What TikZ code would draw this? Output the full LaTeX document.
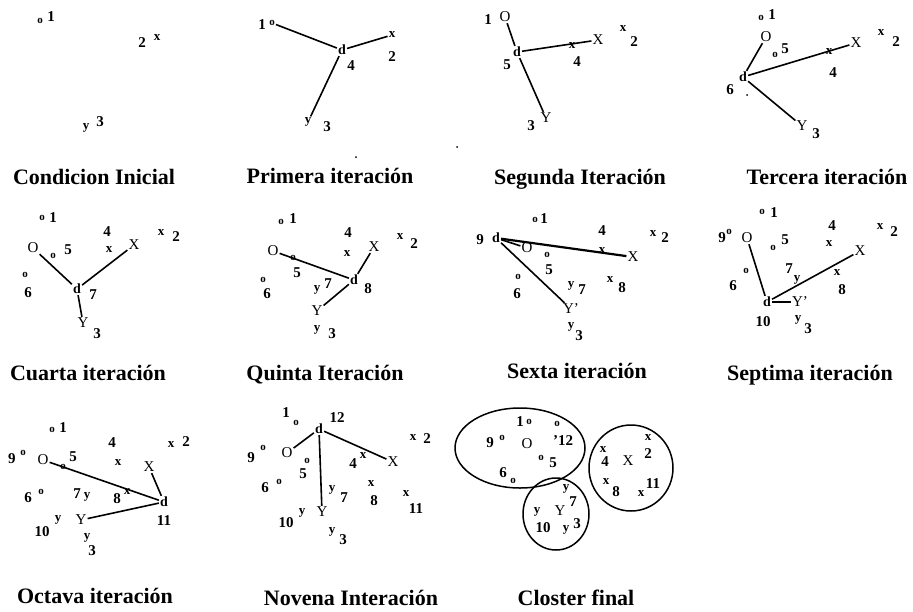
\documentclass[tikz,border=0pt]{standalone}
\usepackage{fontspec}
\setmainfont{Liberation Serif}
\usepackage{tikz}

\begin{document}
\begin{tikzpicture}[x=1pt, y=-1pt,
		num/.style={font=\fontsize{15}{15}\selectfont\bfseries, inner sep=1pt},
		pnt/.style={font=\fontsize{13}{13}\selectfont\bfseries, inner sep=1pt},
		opnt/.style={font=\fontsize{11}{11}\selectfont\bfseries, inner sep=1pt},
		cent/.style={font=\fontsize{15}{15}\selectfont, inner sep=1pt},
		dnode/.style={font=\fontsize{14}{14}\selectfont\bfseries, inner sep=1pt},
		ttl/.style={font=\fontsize{22}{22}\selectfont\bfseries, anchor=base, inner sep=0pt},
		lnk/.style={line width=1.6pt},
		grp/.style={line width=1.5pt}]
		\useasboundingbox (0,0) rectangle (913,611);

		\node[opnt] (Ao1) at (40,21) {o};
		\node[num] (An1) at (51,17) {1};
		\node[num] (An2) at (142,43) {2};
		\node[pnt] (Ax2) at (157,38) {x};
		\node[pnt] (Ay3) at (86,128) {y};
		\node[num] (An3) at (100,122) {3};
		\node[ttl] (At) at (94,184) {Condicion Inicial};

		\node[num] (Bn1) at (262,25) {1};
		\node[opnt] (Bo1) at (272,23) {o};
		\node[dnode] (Bd) at (342,50) {d};
		\node[pnt] (Bx2) at (392,35) {x};
		\node[num] (Bn2) at (392,57) {2};
		\node[num] (Bn4) at (351,66) {4};
		\node[pnt] (By3) at (308,122) {y};
		\node[num] (Bn3) at (327,127) {3};
		\node[ttl] (Bt) at (330,183) {Primera iteración};
		\coordinate (Bs) at (356,157);
		\fill (Bs) circle (1pt);
		\draw[lnk] (Bo1) -- (Bd);
		\draw[lnk] (Bd) -- (Bx2);
		\draw[lnk] (Bd) -- (By3);

		\node[num] (Cn1) at (488,20) {1};
		\node[cent] (CO) at (505,17) {O};
		\node[dnode] (Cd) at (517,52) {d};
		\node[num] (Cn5) at (507,65) {5};
		\node[cent] (CX) at (598,40) {X};
		\node[pnt] (Cx4) at (572,46) {x};
		\node[num] (Cn4) at (577,62) {4};
		\node[pnt] (Cx2) at (623,29) {x};
		\node[num] (Cn2) at (634,42) {2};
		\node[cent] (CY) at (546,118) {Y};
		\node[num] (Cn3) at (531,126) {3};
		\node[ttl] (Ct) at (580,184) {Segunda Iteración};
		\coordinate (Cs) at (457,147);
		\fill (Cs) circle (1pt);
		\draw[lnk] (CO) -- (Cd);
		\draw[lnk] (Cd) -- (CX);
		\draw[lnk] (Cd) -- (CY);

		\node[opnt] (Do1) at (761,18) {o};
		\node[num] (Dn1) at (772,15) {1};
		\node[cent] (DO) at (766,37) {O};
		\node[dnode] (Dd) at (743,77) {d};
		\node[num] (Dn6) at (730,90) {6};
		\coordinate (Dp6) at (747,95);
		\fill (Dp6) circle (1pt);
		\node[opnt] (Do5) at (775,55) {o};
		\node[num] (Dn5) at (785,49) {5};
		\node[pnt] (Dx4) at (829,52) {x};
		\node[cent] (DX) at (856,43) {X};
		\node[num] (Dn4) at (833,73) {4};
		\node[pnt] (Dx2) at (881,33) {x};
		\node[num] (Dn2) at (896,42) {2};
		\node[cent] (DY) at (802,126) {Y};
		\node[num] (Dn3) at (816,134) {3};
		\node[ttl] (Dt) at (827,184) {Tercera iteración};
		\draw[lnk] (DO) -- (Dd);
		\draw[lnk] (Dd) -- (DX);
		\draw[lnk] (Dd) -- (DY);

		\node[opnt] (Eo1) at (42,218) {o};
		\node[num] (En1) at (53,218) {1};
		\node[cent] (EO) at (33,248) {O};
		\node[opnt] (Eo5) at (53,256) {o};
		\node[num] (En5) at (68,250) {5};
		\node[opnt] (Eo6) at (25,275) {o};
		\node[num] (En6) at (28,293) {6};
		\node[dnode] (Ed) at (77,289) {d};
		\node[num] (En7) at (93,295) {7};
		\node[num] (En4) at (107,232) {4};
		\node[pnt] (Ex4) at (109,250) {x};
		\node[cent] (EX) at (134,245) {X};
		\node[pnt] (Ex2) at (161,233) {x};
		\node[num] (En2) at (176,237) {2};
		\node[cent] (EY) at (83,323) {Y};
		\node[num] (En3) at (97,334) {3};
		\node[ttl] (Et) at (88,380) {Cuarta iteración};
		\draw[lnk] (EO) -- (Ed);
		\draw[lnk] (Ed) -- (EX);
		\draw[lnk] (Ed) -- (EY);

		\node[opnt] (Fo1) at (281,222) {o};
		\node[num] (Fn1) at (293,219) {1};
		\node[cent] (FO) at (273,251) {O};
		\node[opnt] (Fo5) at (293,258) {o};
		\node[num] (Fn5) at (297,273) {5};
		\node[opnt] (Fo6) at (263,280) {o};
		\node[num] (Fn6) at (267,294) {6};
		\node[num] (Fn4) at (348,233) {4};
		\node[pnt] (Fx4) at (347,254) {x};
		\node[cent] (FX) at (374,247) {X};
		\node[dnode] (Fd) at (354,280) {d};
		\node[num] (Fn8) at (368,289) {8};
		\node[pnt] (Fx2) at (400,237) {x};
		\node[num] (Fn2) at (414,244) {2};
		\node[pnt] (Fy7) at (317,290) {y};
		\node[num] (Fn7) at (328,284) {7};
		\node[cent] (FY) at (317,311) {Y};
		\node[pnt] (Fy3) at (317,330) {y};
		\node[num] (Fn3) at (332,334) {3};
		\node[ttl] (Ft) at (325,380) {Quinta Iteración};
		\draw[lnk] (FO) -- (Fd);
		\draw[lnk] (Fd) -- (FX);
		\draw[lnk] (Fd) -- (FY);

		\node[opnt] (Go1) at (535,220) {o};
		\node[num] (Gn1) at (544,219) {1};
		\node[num] (Gn9) at (480,240) {9};
		\node[dnode] (Gd) at (496,238) {d};
		\node[cent] (GO) at (527,248) {O};
		\node[pnt] (Gx4) at (602,251) {x};
		\node[num] (Gn4) at (602,231) {4};
		\node[cent] (GX) at (633,257) {X};
		\node[pnt] (Gx2) at (653,234) {x};
		\node[num] (Gn2) at (665,238) {2};
		\node[opnt] (Go5) at (547,255) {o};
		\node[num] (Gn5) at (549,270) {5};
		\node[opnt] (Go6) at (518,277) {o};
		\node[num] (Gn6) at (517,294) {6};
		\node[cent] (GY) at (571,309) {Y'};
		\node[pnt] (Gy7) at (571,286) {y};
		\node[num] (Gn7) at (582,290) {7};
		\node[pnt] (Gx8) at (610,280) {x};
		\node[num] (Gn8) at (622,288) {8};
		\node[pnt] (Gy3) at (571,327) {y};
		\node[num] (Gn3) at (579,336) {3};
		\node[ttl] (Gt) at (577,378) {Sexta iteración};
		\draw[lnk] (Gd) -- (GO);
		\draw[lnk, line width=2.2pt] (Gd) -- (GX);
		\draw[lnk] (Gd) -- (GY);

		\node[opnt] (Ho1) at (762,212) {o};
		\node[num] (Hn1) at (774,213) {1};
		\node[num] (Hn9) at (722,238) {9};
		\node[opnt] (Ho9) at (729,232) {o};
		\node[cent] (HO) at (747,238) {O};
		\node[opnt] (Ho5) at (773,248) {o};
		\node[num] (Hn5) at (785,240) {5};
		\node[num] (Hn4) at (832,226) {4};
		\node[pnt] (Hx4) at (829,244) {x};
		\node[cent] (HX) at (860,251) {X};
		\node[pnt] (Hx2) at (880,227) {x};
		\node[num] (Hn2) at (894,232) {2};
		\node[opnt] (Ho6) at (746,271) {o};
		\node[num] (Hn6) at (733,286) {6};
		\node[num] (Hn7) at (789,269) {7};
		\node[pnt] (Hy7) at (797,280) {y};
		\node[pnt] (Hx8) at (837,273) {x};
		\node[num] (Hn8) at (842,290) {8};
		\node[dnode] (Hd) at (767,302) {d};
		\node[cent] (HY) at (800,302) {Y'};
		\node[num] (Hn10) at (763,322) {10};
		\node[pnt] (Hy3) at (798,320) {y};
		\node[num] (Hn3) at (808,329) {3};
		\node[ttl] (Ht) at (810,380) {Septima iteración};
		\draw[lnk] (HO) -- (Hd);
		\draw[lnk, line width=2.2pt] (Hd) -- (HY);
		\draw[lnk] (Hd) -- (HX);

		\node[opnt] (Io1) at (52,430) {o};
		\node[num] (In1) at (63,428) {1};
		\node[num] (In9) at (12,459) {9};
		\node[opnt] (Io9) at (23,453) {o};
		\node[cent] (IO) at (43,460) {O};
		\node[opnt] (Io5) at (63,467) {o};
		\node[num] (In5) at (73,457) {5};
		\node[num] (In4) at (112,443) {4};
		\node[pnt] (Ix4) at (118,463) {x};
		\node[cent] (IX) at (149,467) {X};
		\node[pnt] (Ix2) at (171,445) {x};
		\node[num] (In2) at (186,442) {2};
		\node[num] (In6) at (28,498) {6};
		\node[opnt] (Io6) at (41,492) {o};
		\node[num] (In7) at (77,494) {7};
		\node[pnt] (Iy7) at (87,497) {y};
		\node[num] (In8) at (117,499) {8};
		\node[pnt] (Ix8) at (127,492) {x};
		\node[dnode] (Id) at (164,502) {d};
		\node[num] (In11) at (164,521) {11};
		\node[cent] (IY) at (81,520) {Y};
		\node[num] (In10) at (42,532) {10};
		\node[pnt] (Iy10) at (58,520) {y};
		\node[pnt] (Iy3) at (87,538) {y};
		\node[num] (In3) at (92,551) {3};
		\node[ttl] (It) at (95,603) {Octava iteración};
		\draw[lnk] (IO) -- (Id);
		\draw[lnk] (IX) -- (Id);
		\draw[lnk] (IY) -- (Id);

		\node[num] (Jn1) at (286,413) {1};
		\node[opnt] (Jo1) at (296,423) {o};
		\node[num] (Jn12) at (337,418) {12};
		\node[dnode] (Jd) at (319,429) {d};
		\node[num] (Jn9) at (251,458) {9};
		\node[opnt] (Jo9) at (263,448) {o};
		\node[cent] (JO) at (287,453) {O};
		\node[cent] (JX) at (393,462) {X};
		\node[pnt] (Jx4) at (363,456) {x};
		\node[num] (Jn4) at (353,464) {4};
		\node[pnt] (Jx2) at (413,438) {x};
		\node[num] (Jn2) at (427,439) {2};
		\node[opnt] (Jo5) at (307,461) {o};
		\node[num] (Jn5) at (303,474) {5};
		\node[num] (Jn6) at (265,488) {6};
		\node[opnt] (Jo6) at (279,482) {o};
		\node[pnt] (Jy7) at (332,490) {y};
		\node[num] (Jn7) at (344,498) {7};
		\node[pnt] (Jx8) at (371,484) {x};
		\node[num] (Jn8) at (374,501) {8};
		\node[pnt] (Jx11) at (406,494) {x};
		\node[num] (Jn11) at (416,509) {11};
		\node[cent] (JY) at (322,512) {Y};
		\node[num] (Jn10) at (286,523) {10};
		\node[pnt] (Jy10) at (302,513) {y};
		\node[pnt] (Jy3) at (332,532) {y};
		\node[num] (Jn3) at (343,540) {3};
		\node[ttl] (Jt) at (351,605) {Novena Interación};
		\draw[lnk] (JO) -- (Jd);
		\draw[lnk] (Jd) -- (JX);
		\draw[lnk] (Jd) -- (JY);

		\coordinate (Kc1) at (520,448);
		\coordinate (Kc2) at (631,468);
		\coordinate (Kc3) at (556,514);
		\draw[grp] (Kc1) ellipse [x radius=65pt, y radius=40pt];
		\draw[grp] (Kc2) ellipse [x radius=42pt, y radius=43pt];
		\draw[grp] (Kc3) ellipse [x radius=33pt, y radius=36pt];
		\node[num] (Kn1) at (520,422) {1};
		\node[opnt] (Ko1) at (529,422) {o};
		\node[opnt] (Ko12) at (557,424) {o};
		\node[num] (Kn9) at (490,443) {9};
		\node[opnt] (Ko9) at (502,438) {o};
		\node[cent] (KO) at (527,444) {O};
		\node[num] (Kn12) at (563,441) {'12};
		\node[opnt] (Ko5) at (541,458) {o};
		\node[num] (Kn5) at (553,463) {5};
		\node[num] (Kn6) at (503,473) {6};
		\node[opnt] (Ko6) at (513,481) {o};
		\node[pnt] (Ky7) at (566,489) {y};
		\node[num] (Kn7) at (573,502) {7};
		\node[pnt] (Ky10) at (537,512) {y};
		\node[cent] (KY) at (560,511) {Y};
		\node[num] (Kn10) at (543,528) {10};
		\node[pnt] (Ky3) at (566,530) {y};
		\node[num] (Kn3) at (577,524) {3};
		\node[pnt] (Kx4) at (603,450) {x};
		\node[num] (Kn4) at (605,462) {4};
		\node[cent] (KX) at (628,461) {X};
		\node[pnt] (Kx2) at (648,438) {x};
		\node[num] (Kn2) at (648,454) {2};
		\node[pnt] (Kx8) at (606,482) {x};
		\node[num] (Kn8) at (616,492) {8};
		\node[num] (Kn11) at (653,484) {11};
		\node[pnt] (Kx11) at (641,494) {x};
		\node[ttl] (Kt) at (576,605) {Closter final};
	\end{tikzpicture}
\end{document}
